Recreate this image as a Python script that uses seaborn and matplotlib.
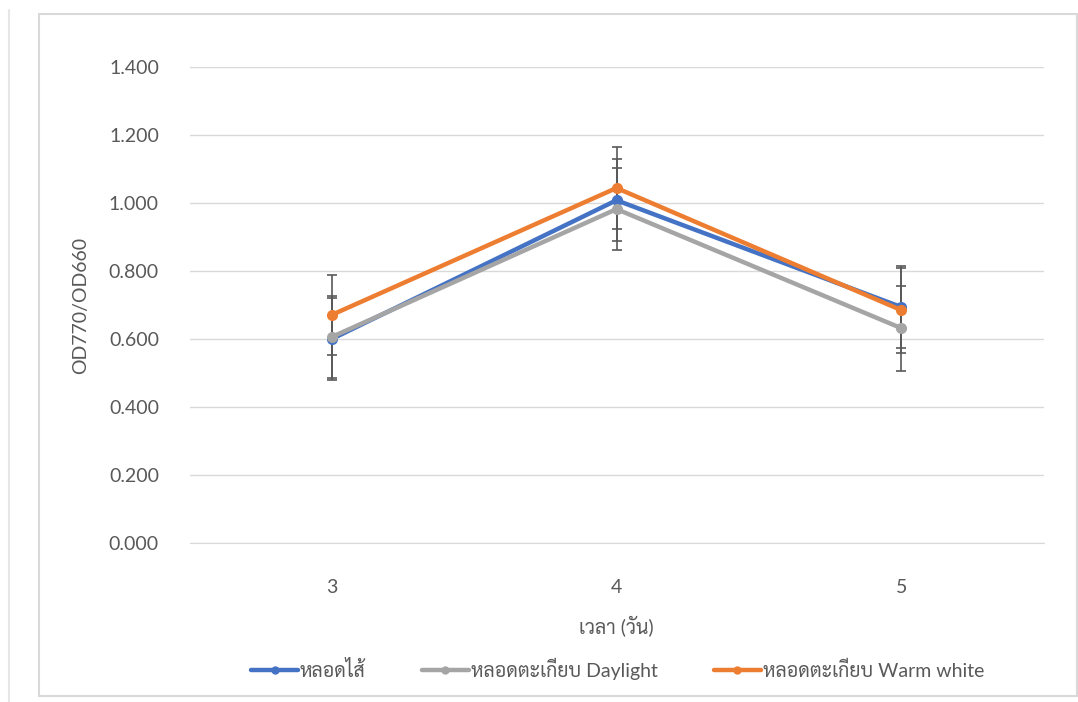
import matplotlib
matplotlib.use("Agg")
import matplotlib.pyplot as plt
from matplotlib.patches import Rectangle
from matplotlib.lines import Line2D
import pandas as pd
import seaborn as sns

days = ["3", "4", "5"]
series_names = ["หลอดไส้", "หลอดตะเกียบ Daylight", "หลอดตะเกียบ Warm white"]
incandescent = [0.600, 1.008, 0.694]
daylight = [0.606, 0.982, 0.632]
warm_white = [0.671, 1.044, 0.685]
incandescent_err = [0.120, 0.121, 0.120]
daylight_err = [0.120, 0.121, 0.125]
warm_white_err = [0.118, 0.121, 0.125]
colors = ["#4472C4", "#A5A5A5", "#ED7D31"]

sns.set_style("white")
plt.rcParams["font.family"] = ["Lato", "Sarabun", "Noto Sans Thai", "DejaVu Sans"]
text_color = "#595959"

df = pd.DataFrame({
    "day": days * 3,
    "value": incandescent + daylight + warm_white,
    "err": incandescent_err + daylight_err + warm_white_err,
    "series": [series_names[0]] * 3 + [series_names[1]] * 3 + [series_names[2]] * 3,
})
df["x"] = df["day"].map({d: i for i, d in enumerate(days)})

fig = plt.figure(figsize=(10.78, 7.02), dpi=100)
ax = fig.add_axes([0.1758, 0.2265, 0.7922, 0.6781])

# error bars first so the lines sit on top
for name in series_names:
    sub = df[df["series"] == name]
    ax.errorbar(sub["x"], sub["value"], yerr=sub["err"], fmt="none",
                ecolor="#595959", elinewidth=1.2, capsize=3.5, capthick=1.2, zorder=2)

sns.lineplot(data=df, x="x", y="value", hue="series", hue_order=series_names,
             palette=colors, marker="o", markersize=8, markeredgewidth=0,
             linewidth=3.2, legend=False, ax=ax, zorder=3)

ax.set_xlim(-0.5, 2.5)
ax.set_ylim(0, 1.4)
ax.set_xticks(range(len(days)))
ax.set_xticklabels(days)
ax.set_yticks([0, 0.2, 0.4, 0.6, 0.8, 1.0, 1.2, 1.4])
ax.set_yticklabels(["%.3f" % v for v in ax.get_yticks()])
ax.grid(axis="y", color="#D9D9D9", linewidth=1)
ax.set_axisbelow(True)
for s in ax.spines.values():
    s.set_visible(False)
ax.spines["bottom"].set_visible(True)
ax.spines["bottom"].set_color("#D9D9D9")
ax.tick_params(axis="both", length=0, labelsize=14, colors=text_color, pad=22)
ax.tick_params(axis="x", pad=26)

ax.set_xlabel("เวลา (วัน)", fontsize=14, color=text_color, labelpad=14)
ax.set_ylabel("OD770/OD660", fontsize=14, color=text_color, labelpad=14)

handles = [Line2D([0], [0], color=c, linewidth=3.2, marker="o", markersize=6, markeredgewidth=0)
           for c in colors]
fig.legend(handles, series_names, loc="center", bbox_to_anchor=(0.573, 0.047), ncol=3,
           frameon=False, fontsize=14, labelcolor=text_color, handlelength=2.4,
           handletextpad=0.1, columnspacing=2.9)

# chart frame like the spreadsheet export
fig.patches.append(Rectangle((39 / 1078, 1 - 696 / 702), (1077 - 39) / 1078, (696 - 14) / 702,
                             transform=fig.transFigure, fill=False, edgecolor="#D9D9D9",
                             linewidth=1.5))
fig.lines.append(Line2D([9 / 1078, 9 / 1078], [0, 1 - 10 / 702], transform=fig.transFigure,
                        color="#E6E6E6", linewidth=1.5))

fig.savefig("out.png", dpi=100)
